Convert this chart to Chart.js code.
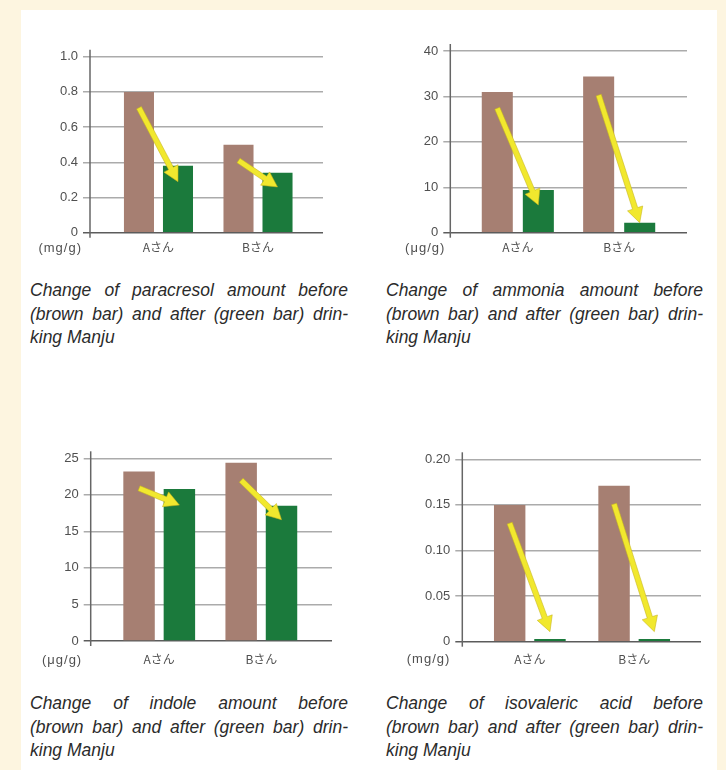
<!DOCTYPE html>
<html>
<head>
<meta charset="utf-8">
<script src="https://cdn.jsdelivr.net/npm/chart.js@4.4.1/dist/chart.umd.min.js"></script>
<style>
  html, body { margin: 0; padding: 0; }
  body { width: 726px; height: 770px; background: #fdf5e0; position: relative; overflow: hidden; }
  #panel { position: absolute; left: 21px; top: 10px; width: 696px; height: 760px; background: #ffffff; }
  canvas { position: absolute; }
  .cap { position: absolute; font-family: "Liberation Sans", Arial, sans-serif; font-style: italic;
         font-size: 17.5px; line-height: 23.5px; color: #2b2b2b; }
  .cap .j { text-align: justify; text-align-last: justify; }
</style>
</head>
<body>
<div id="panel"></div>
<canvas id="c1"></canvas>
<canvas id="c2"></canvas>
<canvas id="c3"></canvas>
<canvas id="c4"></canvas>

<div class="cap" style="left:30px; top:279px; width:318px;">
  <div class="j">Change of paracresol amount before</div>
  <div class="j">(brown bar) and after (green bar) drin-</div>
  <div>king Manju</div>
</div>
<div class="cap" style="left:386px; top:279px; width:317px;">
  <div class="j">Change of ammonia amount before</div>
  <div class="j">(brown bar) and after (green bar) drin-</div>
  <div>king Manju</div>
</div>
<div class="cap" style="left:30px; top:692px; width:318px;">
  <div class="j">Change of indole amount before</div>
  <div class="j">(brown bar) and after (green bar) drin-</div>
  <div>king Manju</div>
</div>
<div class="cap" style="left:386px; top:692px; width:317px;">
  <div class="j">Change of isovaleric acid before</div>
  <div class="j">(brown bar) and after (green bar) drin-</div>
  <div>king Manju</div>
</div>

<script>
// Subjects on the horizontal axis
const categories = ['Aさん', 'Bさん'];

// Paracresol (mg/g): before / after
const paracresolBefore = [0.80, 0.50];
const paracresolAfter = [0.38, 0.34];
const paracresolTicks = ['0', '0.2', '0.4', '0.6', '0.8', '1.0'];
const paracresolArrowFrom = [0.71, 0.41];
const paracresolArrowTo = [0.29, 0.26];

// Ammonia (μg/g)
const ammoniaBefore = [31.0, 34.4];
const ammoniaAfter = [9.4, 2.2];
const ammoniaTicks = ['0', '10', '20', '30', '40'];
const ammoniaArrowFrom = [27.4, 30.3];
const ammoniaArrowTo = [6.1, 2.2];

// Indole (μg/g)
const indoleBefore = [23.2, 24.4];
const indoleAfter = [20.8, 18.5];
const indoleTicks = ['0', '5', '10', '15', '20', '25'];
const indoleArrowFrom = [20.9, 22.0];
const indoleArrowTo = [18.6, 16.6];

// Isovaleric acid (mg/g)
const isovalericBefore = [0.150, 0.171];
const isovalericAfter = [0.003, 0.003];
const isovalericTicks = ['0', '0.05', '0.10', '0.15', '0.20'];
const isovalericArrowFrom = [0.130, 0.151];
const isovalericArrowTo = [0.011, 0.011];

const BROWN = '#a67f72';
const GREEN = '#1b7a3c';
const TEXT = '#505050';
const NUM_FONT = '"Liberation Sans", Arial, sans-serif';
const JP_FONT = '"Noto Sans CJK JP", "Liberation Sans", sans-serif';

function drawArrow(ctx, x1, y1, x2, y2) {
  const ang = Math.atan2(y2 - y1, x2 - x1);
  const headLen = 15, headW = 8, shaftW = 2.7;
  const c = Math.cos(ang), s = Math.sin(ang);
  const bx = x2 - headLen * c, by = y2 - headLen * s;
  const nx = -s, ny = c;
  ctx.beginPath();
  ctx.moveTo(x1 + nx * shaftW, y1 + ny * shaftW);
  ctx.lineTo(bx + nx * shaftW, by + ny * shaftW);
  ctx.lineTo(bx + nx * headW, by + ny * headW);
  ctx.lineTo(x2, y2);
  ctx.lineTo(bx - nx * headW, by - ny * headW);
  ctx.lineTo(bx - nx * shaftW, by - ny * shaftW);
  ctx.lineTo(x1 - nx * shaftW, y1 - ny * shaftW);
  ctx.closePath();
  ctx.fillStyle = '#f1e82e';
  ctx.fill();
  ctx.strokeStyle = 'rgba(196, 178, 30, 0.55)';
  ctx.lineWidth = 1;
  ctx.stroke();
}

// Axis line, unit label and the yellow before→after arrows
const decor = {
  id: 'decor',
  afterDatasetsDraw(chart, args, opts) {
    const { ctx, chartArea } = chart;
    const y = chart.scales.y;
    const x = chart.scales.x;
    ctx.save();
    ctx.strokeStyle = '#666666';
    ctx.lineWidth = 1.5;
    ctx.beginPath();
    ctx.moveTo(chartArea.left, chartArea.top - 7);
    ctx.lineTo(chartArea.left, chartArea.bottom + 5);
    ctx.stroke();

    const before = chart.getDatasetMeta(0).data;
    const after = chart.getDatasetMeta(1).data;
    opts.from.forEach((v, i) => {
      drawArrow(ctx, before[i].x, y.getPixelForValue(v), after[i].x, y.getPixelForValue(opts.to[i]));
    });

    const labelY = x.top + opts.labelPad + 7.5;
    ctx.font = '13px ' + NUM_FONT;
    ctx.letterSpacing = '1px';
    ctx.fillStyle = TEXT;
    ctx.textAlign = 'right';
    ctx.textBaseline = 'middle';
    ctx.fillText(opts.unit, chartArea.left - opts.unitGap, labelY);
    ctx.restore();
  }
};

function makeChart(id, cfg) {
  const L = cfg.layout;
  const canvas = document.getElementById(id);
  canvas.width = L.w;
  canvas.height = L.h;
  canvas.style.left = L.x + 'px';
  canvas.style.top = L.y + 'px';
  const tickVals = cfg.ticks.map(Number);

  new Chart(canvas, {
    type: 'bar',
    data: {
      datasets: [
        { data: cfg.before.map((v, i) => ({ x: i + 1, y: v })), backgroundColor: BROWN,
          categoryPercentage: L.cp, barPercentage: L.bp },
        { data: cfg.after.map((v, i) => ({ x: i + 1, y: v })), backgroundColor: GREEN,
          categoryPercentage: L.cp, barPercentage: L.bp }
      ]
    },
    options: {
      responsive: false,
      animation: false,
      devicePixelRatio: 1,
      layout: { padding: { top: L.plotTop - L.y, right: (L.x + L.w) - L.plotRight, left: 0, bottom: 0 } },
      plugins: {
        legend: { display: false },
        tooltip: { enabled: false },
        decor: { from: cfg.arrowFrom, to: cfg.arrowTo, unit: cfg.unit, unitGap: L.unitGap, labelPad: L.labelPad }
      },
      scales: {
        x: {
          type: 'linear',
          min: L.xmin,
          max: L.xmax,
          offset: false,
          grid: { display: false, drawTicks: false, offset: false },
          border: { display: false },
          afterBuildTicks: s => { s.ticks = categories.map((c, i) => ({ value: i + 1 })); },
          afterFit: s => { s.height = (L.y + L.h) - L.plotBottom; },
          ticks: {
            autoSkip: false, maxRotation: 0, padding: L.labelPad, color: TEXT,
            font: { family: JP_FONT, size: 12 },
            callback: v => categories[v - 1]
          }
        },
        y: {
          min: 0,
          max: tickVals[tickVals.length - 1],
          afterBuildTicks: s => { s.ticks = tickVals.map(v => ({ value: v })); },
          afterFit: s => { s.width = L.plotLeft - L.x; },
          grid: {
            color: c => (c.tick && c.tick.value === 0) ? '#5c5c5c' : '#ababab',
            lineWidth: 1.5,
            tickLength: 7
          },
          border: { display: false },
          ticks: {
            padding: 5, color: TEXT,
            font: { family: NUM_FONT, size: 13 },
            callback: (v, i) => cfg.ticks[i]
          }
        }
      }
    },
    plugins: [decor]
  });
}

makeChart('c1', {
  before: paracresolBefore, after: paracresolAfter, ticks: paracresolTicks,
  arrowFrom: paracresolArrowFrom, arrowTo: paracresolArrowTo, unit: '(mg/g)',
  layout: { x: 21, y: 10, w: 332, h: 255, plotLeft: 90, plotTop: 56.7, plotRight: 323, plotBottom: 232.7,
            xmin: 0.312, xmax: 2.653, cp: 0.784, bp: 0.77, labelPad: 8, unitGap: 8 }
});

makeChart('c2', {
  before: ammoniaBefore, after: ammoniaAfter, ticks: ammoniaTicks,
  arrowFrom: ammoniaArrowFrom, arrowTo: ammoniaArrowTo, unit: '(μg/g)',
  layout: { x: 371, y: 10, w: 345, h: 255, plotLeft: 450.3, plotTop: 51, plotRight: 687, plotBottom: 232.7,
            xmin: 0.334, xmax: 2.669, cp: 0.81, bp: 0.756, labelPad: 8, unitGap: 5 }
});

makeChart('c3', {
  before: indoleBefore, after: indoleAfter, ticks: indoleTicks,
  arrowFrom: indoleArrowFrom, arrowTo: indoleArrowTo, unit: '(μg/g)',
  layout: { x: 21, y: 428, w: 337, h: 252, plotLeft: 90.7, plotTop: 458.3, plotRight: 332, plotBottom: 641,
            xmin: 0.329, xmax: 2.692, cp: 0.79, bp: 0.78, labelPad: 11.5, unitGap: 8.5 }
});

makeChart('c4', {
  before: isovalericBefore, after: isovalericAfter, ticks: isovalericTicks,
  arrowFrom: isovalericArrowFrom, arrowTo: isovalericArrowTo, unit: '(mg/g)',
  layout: { x: 378, y: 440, w: 338, h: 240, plotLeft: 462.3, plotTop: 459.3, plotRight: 701, plotBottom: 641.7,
            xmin: 0.353, xmax: 2.64, cp: 0.772, bp: 0.78, labelPad: 10.5, unitGap: 12 }
});
</script>
</body>
</html>
